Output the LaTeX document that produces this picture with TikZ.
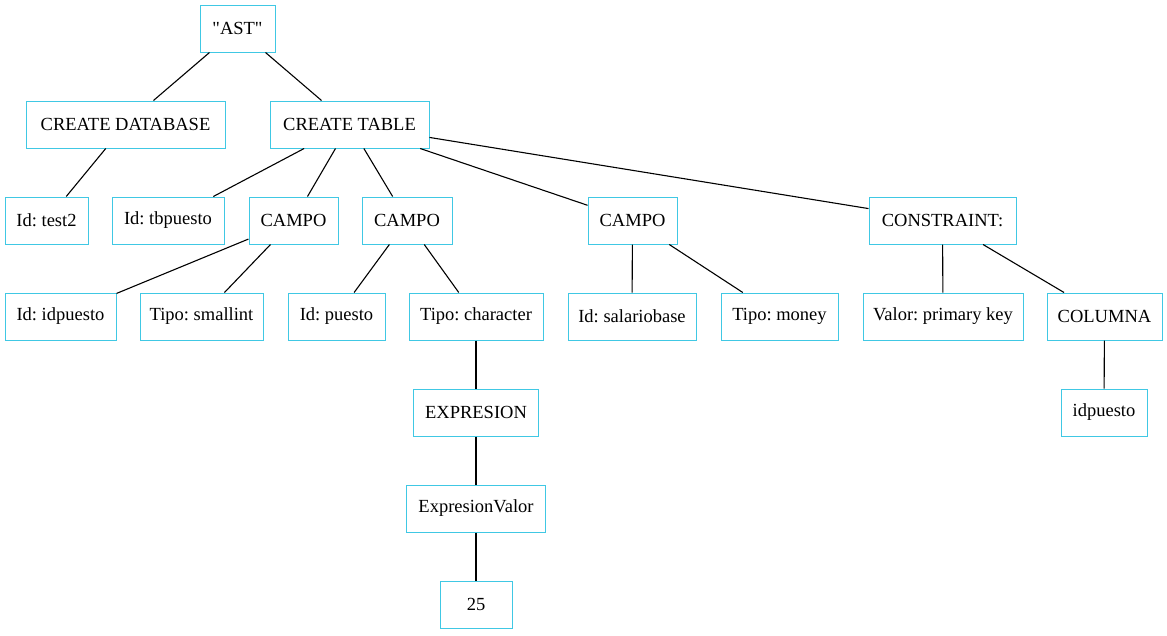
\documentclass[tikz,border=0pt]{standalone}
\usepackage{fontspec}
\setmainfont{Liberation Serif}[Ligatures=TeXOff]
\definecolor{boxc}{RGB}{64,200,228}
\frenchspacing
\begin{document}
\begin{tikzpicture}[x=1pt,y=-1pt,
  nd/.style={draw=boxc,line width=1pt,inner sep=0pt,minimum height=47pt,font=\fontsize{18.5}{22}\selectfont},
  ed/.style={draw=black,line width=1.1pt}]
\useasboundingbox (0,0) rectangle (1167,635);
\node[nd,minimum width=75pt]  (ast) at (237.5,28.5) {"AST"};
\node[nd,minimum width=199pt] (cdb) at (125.5,124.5) {CREATE DATABASE};
\node[nd,minimum width=159pt] (ctb) at (349.5,124.5) {CREATE TABLE};
\node[nd,minimum width=83pt]  (test) at (46.5,220.5) {Id: test2};
\node[nd,minimum width=112pt] (tbp) at (168,220.5) {Id: tbpuesto};
\node[nd,minimum width=89pt]  (c1) at (293.5,220.5) {CAMPO};
\node[nd,minimum width=90pt]  (c2) at (407,220.5) {CAMPO};
\node[nd,minimum width=89pt]  (c3) at (632.5,220.5) {CAMPO};
\node[nd,minimum width=147pt] (con) at (942.5,220.5) {CONSTRAINT:};
\node[nd,minimum width=111pt] (idp) at (60.5,316.5) {Id: idpuesto};
\node[nd,minimum width=123pt] (tsi) at (201.5,316.5) {Tipo: smallint};
\node[nd,minimum width=97pt]  (idpu) at (336.5,316.5) {Id: puesto};
\node[nd,minimum width=134pt] (tch) at (476,316.5) {Tipo: character};
\node[nd,minimum width=128pt] (isb) at (632,316.5) {Id: salariobase};
\node[nd,minimum width=117pt] (tmo) at (779.5,316.5) {Tipo: money};
\node[nd,minimum width=160pt] (vpk) at (943,316.5) {Valor: primary key};
\node[nd,minimum width=115pt] (col) at (1104.5,316.5) {COLUMNA};
\node[nd,minimum width=125pt] (exp) at (476,412.5) {EXPRESION};
\node[nd,minimum width=86pt]  (idc) at (1104,412.5) {idpuesto};
\node[nd,minimum width=139pt] (ev) at (476,508.5) {ExpresionValor};
\node[nd,minimum width=72pt]  (v25) at (476,604.5) {25};
\draw[ed] (ast) -- (cdb);
\draw[ed] (ast) -- (ctb);
\draw[ed] (cdb) -- (test);
\draw[ed] (ctb) -- (tbp);
\draw[ed] (ctb) -- (c1);
\draw[ed] (ctb) -- (c2);
\draw[ed] (ctb) -- (c3);
\draw[ed] (ctb) -- (con);
\draw[ed] (c1) -- (idp);
\draw[ed] (c1) -- (tsi);
\draw[ed] (c2) -- (idpu);
\draw[ed] (c2) -- (tch);
\draw[ed] (c3) -- (isb);
\draw[ed] (c3) -- (tmo);
\draw[ed] (con) -- (vpk);
\draw[ed] (con) -- (col);
\draw[ed] (tch) -- (exp);
\draw[ed] (exp) -- (ev);
\draw[ed] (ev) -- (v25);
\draw[ed] (col) -- (idc);
\end{tikzpicture}
\end{document}
